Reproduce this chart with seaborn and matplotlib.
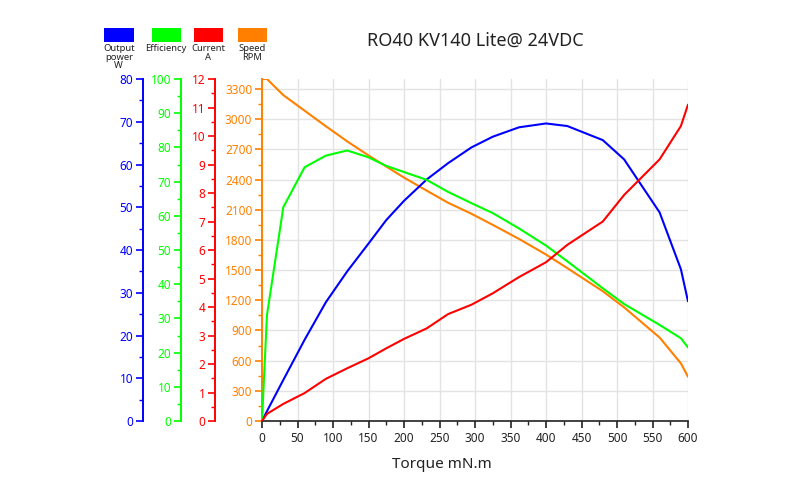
import matplotlib
matplotlib.use("Agg")
import matplotlib.pyplot as plt
from matplotlib.patches import Rectangle
from matplotlib.ticker import MultipleLocator
import seaborn as sns
import pandas as pd

# ---------------- data ----------------
torque = [0, 7, 30, 60, 90, 120, 150, 175, 200, 232, 262, 295, 325, 362, 400, 430, 480, 510, 560, 590, 600]
power = [0, 2.3, 9.6, 19.0, 27.8, 35.0, 41.5, 47.0, 51.5, 56.5, 60.3, 64.0, 66.5, 68.7, 69.6, 69.0, 65.7, 61.2, 48.8, 35.5, 28.0]
efficiency = [0, 31, 62.5, 74.2, 77.6, 79.1, 77.1, 74.6, 72.8, 70.5, 67.0, 63.7, 60.8, 56.3, 51.3, 46.7, 38.8, 34.2, 28.1, 24.2, 21.5]
current = [0, 0.25, 0.6, 0.98, 1.48, 1.85, 2.2, 2.55, 2.88, 3.25, 3.75, 4.08, 4.48, 5.05, 5.57, 6.18, 7.0, 7.93, 9.18, 10.35, 11.1]
speed = [3400, 3400, 3240, 3085, 2930, 2780, 2640, 2530, 2420, 2290, 2170, 2060, 1950, 1810, 1655, 1520, 1290, 1130, 830, 573, 440]

legend_labels = ["Output\npower\nW", "Efficiency", "Current\nA", "Speed\nRPM"]
title = "RO40 KV140 Lite@ 24VDC"
xlabel = "Torque mN.m"

df = pd.DataFrame({"torque": torque, "power": power, "eff": efficiency,
                   "cur": current, "speed": speed})

BLUE, GREEN, RED, ORANGE = "#0000ff", "#00ff00", "#ff0000", "#ff8000"

sns.set_style("white")
plt.rcParams["font.family"] = ["Noto Sans", "DejaVu Sans"]

fig = plt.figure(figsize=(8, 4.78), dpi=100)
ax = fig.add_axes([262 / 800, 1 - 421 / 478, 426 / 800, 342 / 478])

W = 426.0
TICK_FS = 8.5

def make_twin(pos_px, color, ymax, major, minor):
    t = ax.twinx()
    for s in ["right", "top", "bottom"]:
        t.spines[s].set_visible(False)
    t.spines["left"].set_visible(True)
    t.spines["left"].set_position(("axes", (pos_px - 262) / W))
    t.spines["left"].set_color(color)
    t.spines["left"].set_linewidth(1.4)
    t.yaxis.set_ticks_position("left")
    t.yaxis.set_label_position("left")
    t.set_ylim(0, ymax)
    t.yaxis.set_major_locator(MultipleLocator(major))
    t.yaxis.set_minor_locator(MultipleLocator(minor))
    t.tick_params(axis="y", which="major", direction="out", length=5, width=1.2,
                  color=color, labelcolor=color, labelsize=TICK_FS, pad=2)
    t.tick_params(axis="y", which="minor", direction="out", length=3, width=1.0,
                  color=color)
    return t

ax_p = make_twin(143, BLUE, 80, 10, 5)
ax_e = make_twin(181, GREEN, 100, 10, 5)
ax_c = make_twin(215, RED, 12, 1, 0.5)

# main axis: speed
ax.set_xlim(0, 600)
ax.set_ylim(0, 3400)
ax.set_yticks(list(range(0, 3301, 300)))
ax.yaxis.set_minor_locator(MultipleLocator(150))
ax.xaxis.set_major_locator(MultipleLocator(50))
ax.xaxis.set_minor_locator(MultipleLocator(25))
ax.grid(True, which="major", color="#e3e3e3", linewidth=1.0)
for s in ["right", "top"]:
    ax.spines[s].set_visible(False)
ax.spines["left"].set_color(ORANGE)
ax.spines["left"].set_linewidth(1.4)
ax.spines["bottom"].set_color("#222222")
ax.spines["bottom"].set_linewidth(1.2)
ax.tick_params(axis="y", which="major", direction="out", length=5, width=1.2,
               color=ORANGE, labelcolor=ORANGE, labelsize=TICK_FS, pad=2, left=True)
ax.tick_params(axis="y", which="minor", direction="out", length=3, width=1.0,
               color=ORANGE, left=True)
ax.tick_params(axis="x", which="major", direction="out", length=5, width=1.2,
               color="#222222", labelcolor="#222222", labelsize=TICK_FS, pad=3, bottom=True)
ax.tick_params(axis="x", which="minor", direction="out", length=3, width=1.0,
               color="#222222", bottom=True)

lw = 1.5
sns.lineplot(data=df, x="torque", y="power", ax=ax_p, color=BLUE, lw=lw)
sns.lineplot(data=df, x="torque", y="eff", ax=ax_e, color=GREEN, lw=lw)
sns.lineplot(data=df, x="torque", y="cur", ax=ax_c, color=RED, lw=lw)
sns.lineplot(data=df, x="torque", y="speed", ax=ax, color=ORANGE, lw=lw, zorder=3)
for a in (ax, ax_p, ax_e, ax_c):
    a.set_ylabel("")
    a.set_xlim(0, 600)
ax.set_xlabel("")

fig.text(442 / 800, 1 - 465 / 478, xlabel, ha="center", va="center",
         fontsize=11, color="#222222")
fig.text(475 / 800, 1 - 41 / 478, title, ha="center", va="center",
         fontsize=13, color="#222222")

# legend boxes
rects = [(104, BLUE), (151.5, GREEN), (193.5, RED), (237.5, ORANGE)]
for (x0, c), lab in zip(rects, legend_labels):
    fig.add_artist(Rectangle((x0 / 800, 1 - 41.5 / 478), 29.5 / 800, 13 / 478,
                             transform=fig.transFigure, facecolor=c,
                             edgecolor="none"))
    fig.text((x0 + 14.75) / 800, 1 - 44 / 478, lab, ha="center", va="top",
             fontsize=6.8, color="#222222", linespacing=0.95)

fig.savefig("out.png", dpi=100)
